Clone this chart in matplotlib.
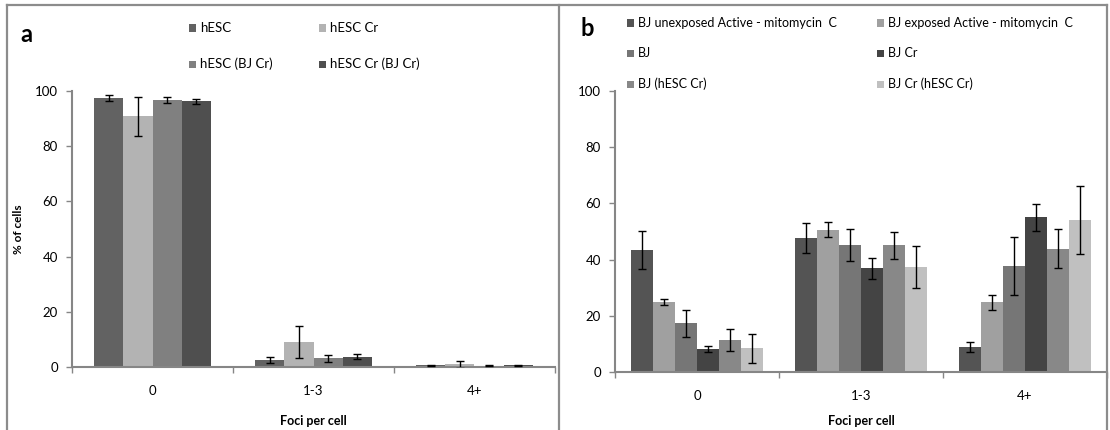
import matplotlib
matplotlib.use("Agg")
import matplotlib.pyplot as plt
from matplotlib.patches import Rectangle
from matplotlib.lines import Line2D
import numpy as np

plt.rcParams['font.family'] = ['Lato', 'DejaVu Sans']

categories = ["0", "1-3", "4+"]

# Panel a: hESC lines
a_labels = ["hESC", "hESC Cr", "hESC (BJ Cr)", "hESC Cr (BJ Cr)"]
a_values = [
    [97.5, 2.6, 0.6],
    [90.8, 8.9, 1.0],
    [96.7, 3.1, 0.5],
    [96.2, 3.8, 0.6],
]
a_errors = [
    [1.1, 1.0, 0.3],
    [7.2, 5.8, 1.3],
    [1.0, 1.2, 0.3],
    [1.0, 1.0, 0.3],
]
a_colors = ["#626262", "#b3b3b3", "#808080", "#4f4f4f"]

# Panel b: BJ lines
b_labels = ["BJ unexposed Active - mitomycin  C", "BJ exposed Active - mitomycin  C",
            "BJ", "BJ Cr", "BJ (hESC Cr)", "BJ Cr (hESC Cr)"]
b_values = [
    [43.4, 47.6, 8.9],
    [24.9, 50.7, 24.9],
    [17.4, 45.1, 37.8],
    [8.2, 36.9, 55.1],
    [11.4, 45.1, 43.9],
    [8.5, 37.3, 54.1],
]
b_errors = [
    [6.7, 5.3, 1.8],
    [1.0, 2.8, 2.7],
    [4.8, 5.7, 10.2],
    [1.0, 3.7, 4.8],
    [3.8, 4.7, 6.9],
    [5.1, 7.5, 12.2],
]
b_colors = ["#545454", "#a0a0a0", "#767676", "#444444", "#888888", "#c0c0c0"]

W, H = 1110, 430
fig = plt.figure(figsize=(W / 100, H / 100), dpi=100)


def fx(px):
    return px / W


def fy(py):
    return 1 - py / H


AXIS_GRAY = "#868686"


def draw_panel(rect, labels, values, errors, colors, group_width):
    left, top, right, bottom = rect
    ax = fig.add_axes([fx(left), fy(bottom), fx(right - left), fy(top) - fy(bottom)])
    n = len(labels)
    x = np.arange(len(categories))
    bw = group_width / n
    for i in range(n):
        pos = x - group_width / 2 + bw * (i + 0.5)
        ax.bar(pos, values[i], width=bw, color=colors[i], edgecolor="none", zorder=2)
        ax.errorbar(pos, values[i], yerr=errors[i], fmt="none", ecolor="black",
                    elinewidth=1.0, capsize=3, capthick=1.0, zorder=3)
    ax.set_xlim(-0.5, len(categories) - 0.5)
    ax.set_ylim(0, 100)
    ax.set_yticks(range(0, 101, 20))
    ax.set_xticks(x)
    ax.set_xticklabels(categories)
    ax.set_xticks(np.arange(-0.5, len(categories)), minor=True)
    ax.tick_params(axis="x", which="major", length=0, pad=13, labelsize=9.5)
    ax.tick_params(axis="x", which="minor", length=4, color=AXIS_GRAY, width=1)
    ax.tick_params(axis="y", length=4, color=AXIS_GRAY, width=1, pad=6, labelsize=9.5)
    for s in ("top", "right"):
        ax.spines[s].set_visible(False)
    for s in ("left", "bottom"):
        ax.spines[s].set_color(AXIS_GRAY)
        ax.spines[s].set_linewidth(1.5)
    ax.set_xlabel("Foci per cell", fontsize=9, fontweight="bold")
    return ax


ax_a = draw_panel((72, 91, 555, 367), a_labels, a_values, a_errors, a_colors, 0.725)
ax_b = draw_panel((615, 90.7, 1107, 372.3), b_labels, b_values, b_errors, b_colors, 0.80)
ax_a.xaxis.set_label_coords(0.5, -(415 - 367) / 276)
ax_b.xaxis.set_label_coords(0.5, -(415 - 372.3) / 281.6)

# y-axis title of panel a
fig.text(fx(18), fy(229), "% of cells", fontsize=8.5, fontweight="bold",
         rotation=90, ha="center", va="center")


def manual_legend(labels, colors, col_x, row_y, fontsize):
    ncol = len(col_x)
    for i, (lab, col) in enumerate(zip(labels, colors)):
        cx = col_x[i % ncol]
        cy = row_y[i // ncol]
        s = 7
        fig.patches.append(Rectangle((fx(cx), fy(cy + s / 2)), s / W, s / H,
                                     transform=fig.transFigure, facecolor=col,
                                     edgecolor="none"))
        fig.text(fx(cx + 11), fy(cy), lab, fontsize=fontsize, va="center", ha="left")


manual_legend(a_labels, a_colors, [189, 319], [28, 64], 9.5)
manual_legend(b_labels, b_colors, [627, 877], [23, 53, 84], 9)

fig.text(fx(20), fy(34), "a", fontsize=17, fontweight="bold", va="center", ha="left")
fig.text(fx(581), fy(29), "b", fontsize=17, fontweight="bold", va="center", ha="left")

# Panel frames
frame_kw = dict(color="#8c8c8c", linewidth=1.6, transform=fig.transFigure)
fig.lines.append(Line2D([fx(7), fx(1107)], [fy(5), fy(5)], **frame_kw))
fig.lines.append(Line2D([fx(7), fx(7)], [fy(5), fy(430)], **frame_kw))
fig.lines.append(Line2D([fx(559), fx(559)], [fy(5), fy(430)], **frame_kw))
fig.lines.append(Line2D([fx(1107), fx(1107)], [fy(5), fy(430)], **frame_kw))

fig.savefig("out.png", dpi=100)
